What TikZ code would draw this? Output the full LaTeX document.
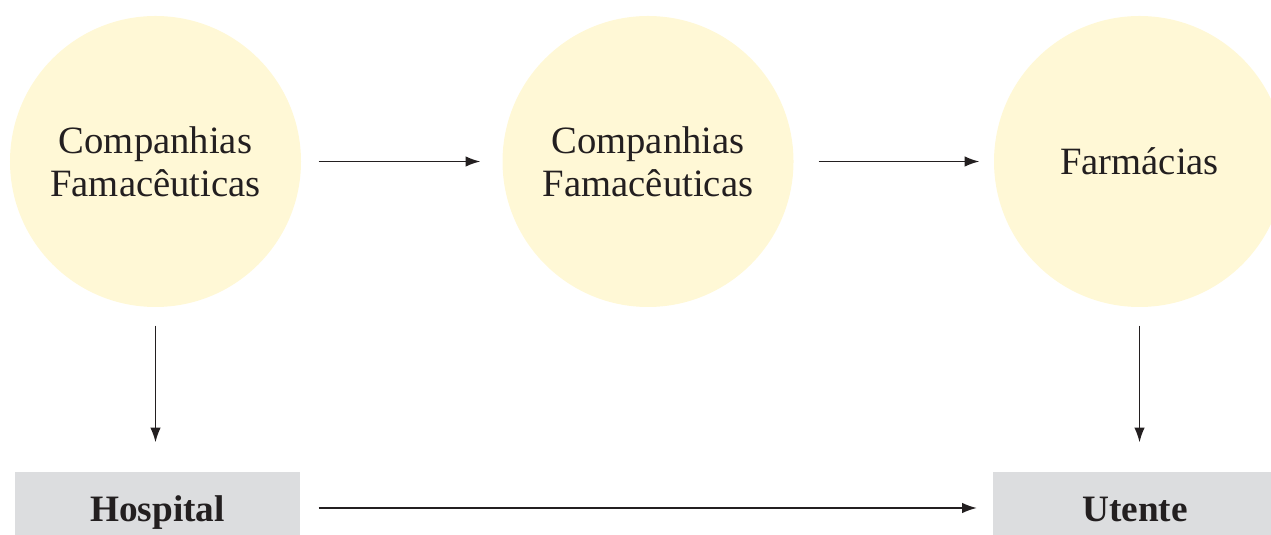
\documentclass[tikz,border=0pt]{standalone}
\usepackage{fontspec}
\setmainfont{Liberation Serif}
\usetikzlibrary{positioning, arrows.meta}
\definecolor{circfill}{HTML}{FFF8D6}
\definecolor{boxfill}{HTML}{DCDDDF}
\definecolor{inkcol}{HTML}{231F20}
\tikzset{
  circnode/.style={
    circle, fill=circfill, minimum size=29.1mm, inner sep=0mm, align=center,
    text=inkcol, font=\fontsize{11}{12.2}\selectfont
  },
  rect/.style={
    rectangle, fill=boxfill, minimum height=7.2mm, minimum width=28.5mm,
    inner sep=0mm, text height=7.5pt, text depth=0pt, text=inkcol,
    font=\fontsize{10.6}{13}\selectfont\bfseries
  },
  arr/.style={-{Latex[length=4.2pt, width=3pt]}, line width=0.4pt, draw=inkcol}
}

\begin{document}
\begin{tikzpicture}
   \useasboundingbox (0, 0) rectangle (12.71, -5.35);

   \node[circnode] (cf1) at (1.555, -1.615) {Companhias\\Famacêuticas};
   \node[circnode] (cf2) at (6.48, -1.615) {Companhias\\Famacêuticas};
   \node[circnode] (farm) at (11.395, -1.615) {Farmácias};
   \node[rect] (hosp) at (1.575, -5.08) {Hospital};
   \node[rect] (ute) at (11.35, -5.08) {Utente};

   \draw[arr, shorten <=1.7mm, shorten >=2.15mm] (cf1) -- (cf2);
   \draw[arr, shorten <=2.45mm, shorten >=1.4mm] (cf2) -- (farm);
   \draw[arr, shorten <=1.8mm, shorten >=2.9mm] (cf1.south) -- (cf1.south |- hosp.north);
   \draw[arr, shorten <=1.8mm, shorten >=2.9mm] (farm.south) -- (farm.south |- ute.north);
   \draw[arr, shorten <=1.8mm, shorten >=1.5mm] (hosp) -- (ute);
\end{tikzpicture}
\end{document}
